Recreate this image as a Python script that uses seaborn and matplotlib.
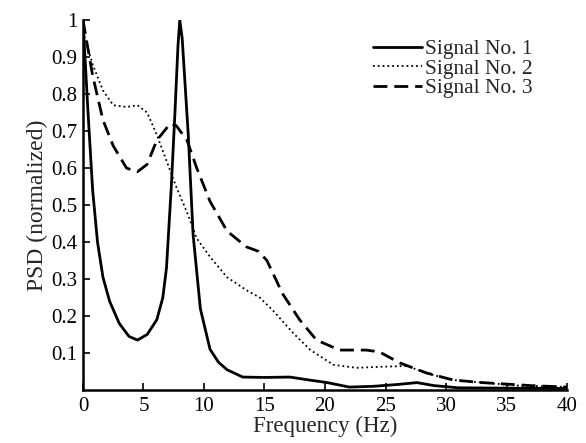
import numpy as np
import pandas as pd
import matplotlib
matplotlib.use("Agg")
import matplotlib.pyplot as plt
import seaborn as sns

# values
freq_1 = [0, 0.4, 0.8, 1.2, 1.65, 2.2, 3.0, 3.8, 4.5, 5.3, 6.1, 6.6, 6.9, 7.3, 7.6, 7.85, 8.0,
          8.2, 8.45, 8.7, 9.1, 9.7, 10.5, 11.2, 11.9, 13.2, 15.0, 17.1, 18.5, 20.2, 22.0, 24.0,
          26.0, 27.6, 29.0, 31.0, 35.0, 40.0]
psd_1 = [1.0, 0.76, 0.54, 0.40, 0.305, 0.24, 0.18, 0.145, 0.135, 0.15, 0.19, 0.25, 0.33, 0.55,
         0.75, 0.93, 1.0, 0.95, 0.82, 0.69, 0.42, 0.22, 0.11, 0.075, 0.055, 0.035, 0.034, 0.035,
         0.028, 0.02, 0.008, 0.01, 0.015, 0.02, 0.012, 0.006, 0.005, 0.004]

freq_2 = [0, 0.8, 1.65, 2.5, 3.6, 4.5, 5.3, 6.1, 6.9, 7.7, 8.6, 9.4, 10.5, 11.9, 13.5, 14.6,
          15.7, 17.4, 18.8, 20.7, 22.6, 24.8, 26.8, 28.4, 30.6, 33.0, 36.0, 40.0]
psd_2 = [0.97, 0.88, 0.81, 0.77, 0.765, 0.77, 0.75, 0.69, 0.62, 0.55, 0.48, 0.41, 0.36, 0.305,
         0.27, 0.25, 0.215, 0.153, 0.108, 0.068, 0.06, 0.063, 0.065, 0.045, 0.027, 0.02, 0.012,
         0.008]

freq_3 = [0, 0.8, 1.65, 2.5, 3.6, 4.5, 5.3, 6.1, 7.2, 7.7, 8.6, 9.4, 10.5, 11.9, 13.5, 14.5,
          15.2, 16.5, 17.9, 19.3, 21.2, 23.4, 24.5, 26.2, 28.4, 30.6, 33.0, 34.5, 37.0, 40.0]
psd_3 = [1.0, 0.85, 0.73, 0.66, 0.60, 0.59, 0.61, 0.675, 0.72, 0.715, 0.675, 0.60, 0.51, 0.43,
         0.387, 0.375, 0.35, 0.26, 0.19, 0.135, 0.108, 0.108, 0.103, 0.073, 0.046, 0.027, 0.02,
         0.017, 0.012, 0.008]

labels = ["Signal No. 1", "Signal No. 2", "Signal No. 3"]
x_ticks = [0, 5, 10, 15, 20, 25, 30, 35, 40]
y_ticks = [0.1, 0.2, 0.3, 0.4, 0.5, 0.6, 0.7, 0.8, 0.9, 1.0]
y_tick_labels = ["0.1", "0.2", "0.3", "0.4", "0.5", "0.6", "0.7", "0.8", "0.9", "1"]

sns.set_style("ticks")
plt.rcParams['font.family'] = ['Liberation Serif', 'DejaVu Serif']

fig = plt.figure(figsize=(5.86, 4.43), dpi=100)
ax = fig.add_axes([0.1416, 0.1196, 0.826, 0.835])

series = [(freq_1, psd_1, "-", 2.0), (freq_2, psd_2, ":", 1.3), (freq_3, psd_3, (0, (5, 2.5)), 2.0)]
for (f, p, ls, lw), lab in zip(series, labels):
    df = pd.DataFrame({"freq": f, "psd": p})
    sns.lineplot(data=df, x="freq", y="psd", ax=ax, color="black", linestyle=ls,
                 linewidth=lw, label=lab)

ax.set_xlim(0, 40)
ax.set_ylim(0, 1)
ax.set_xticks(x_ticks)
ax.set_yticks(y_ticks)
ax.set_yticklabels(y_tick_labels)
ax.tick_params(direction="in", length=5, width=1.2, labelsize=15, colors="black")
ax.tick_params(axis="x", pad=5)
ax.tick_params(axis="y", pad=4)
for s in ["top", "right"]:
    ax.spines[s].set_visible(False)
for s in ["left", "bottom"]:
    ax.spines[s].set_linewidth(1.8)
    ax.spines[s].set_color("black")

ax.set_xlabel("Frequency (Hz)", fontsize=16.5, labelpad=0)
ax.set_ylabel("PSD (normalized)", fontsize=17, labelpad=2)

leg = ax.legend(loc="upper left", bbox_to_anchor=(0.599, 0.949), frameon=False, fontsize=15.5,
                handlelength=2.3, handletextpad=0.1, labelspacing=-0.02, borderaxespad=0,
                borderpad=0)

fig.savefig("out.png", dpi=100)
